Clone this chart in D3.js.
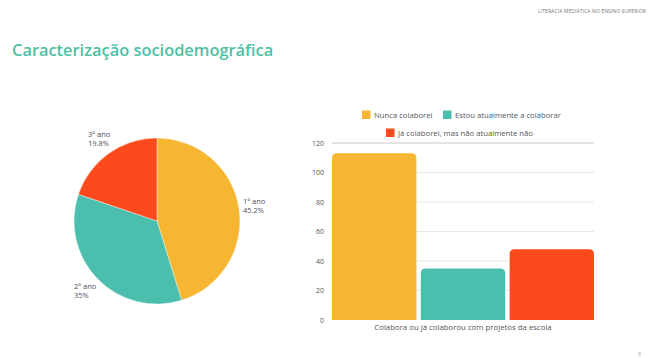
<!DOCTYPE html>
<html>
<head>
<meta charset="utf-8">
<script src="https://cdn.jsdelivr.net/npm/d3@7"></script>
<style>
  html, body { margin: 0; padding: 0; background: #fff; }
  svg { display: block; }
  text { font-family: "Open Sans", "Noto Sans", sans-serif; }
</style>
</head>
<body>
<svg id="chart" width="649" height="358"></svg>
<script>
// Year distribution (pie)
const years = ["1º ano", "2º ano", "3º ano"];
const yearShares = [45.2, 35, 19.8];
const yearLabels = ["45.2%", "35%", "19.8%"];

// Collaboration with school projects (bars)
const groups = ["Nunca colaborei", "Estou atualmente a colaborar", "Já colaborei, mas não atualmente não"];
const groupValues = [113, 35, 48];
const category = "Colabora ou já colaborou com projetos da escola";
const yTicks = [0, 20, 40, 60, 80, 100, 120];

const colors = ["#f7b632", "#4bbead", "#fc4a1c"];

const svg = d3.select("#chart");

// Header and title
svg.append("text").attr("x", 538).attr("y", 13)
  .attr("font-size", 5).attr("fill", "#777").attr("letter-spacing", 0.1)
  .text("LITERACIA MEDIÁTICA NO ENSINO SUPERIOR");

svg.append("text").attr("x", 12).attr("y", 56)
  .attr("font-size", 16.4).attr("font-weight", 600).attr("fill", "#4dbfa5")
  .text("Caracterização sociodemográfica");

svg.append("text").attr("x", 638).attr("y", 356)
  .attr("font-size", 5).attr("fill", "#999").text("9");

// ---- Pie ----
const cx = 157, cy = 221, r = 83;
const pie = d3.pie().sort(null).value(d => d)(yearShares);
const arc = d3.arc().innerRadius(0).outerRadius(r);
const pg = svg.append("g").attr("transform", `translate(${cx},${cy})`);
pg.selectAll("path").data(pie).join("path")
  .attr("d", arc).attr("fill", (d, i) => colors[i])
  .attr("stroke", "#fff").attr("stroke-width", 0.4);

const pieLabelPos = [[243, 204], [74, 289], [88, 137]];
pie.forEach((d, i) => {
  const [lx, ly] = pieLabelPos[i];
  const t = svg.append("text").attr("x", lx).attr("y", ly)
    .attr("font-size", 7.5).attr("fill", "#4a5160");
  t.append("tspan").attr("x", lx).text(years[i]);
  t.append("tspan").attr("x", lx).attr("dy", 9).text(yearLabels[i]);
});

// ---- Bars ----
const plotLeft = 332, plotRight = 594, plotTop = 143, plotBottom = 320;
const y = d3.scaleLinear().domain([0, 120]).range([plotBottom, plotTop]);
const x = d3.scaleBand().domain(groups).range([plotLeft, plotRight]).paddingInner(0.05).paddingOuter(0);

const grid = svg.append("g");
grid.selectAll("line").data(yTicks.filter(t => t > 0)).join("line")
  .attr("x1", plotLeft).attr("x2", plotRight)
  .attr("y1", d => y(d)).attr("y2", d => y(d))
  .attr("stroke", d => d === 120 ? "#c8c8c8" : "#e6e6e6").attr("stroke-width", 1);

const yAxis = d3.axisLeft(y).tickValues(yTicks).tickSize(0).tickPadding(8);
const ya = svg.append("g").attr("transform", `translate(${plotLeft},0)`).call(yAxis);
ya.select(".domain").remove();
ya.selectAll("text").attr("font-size", 7).attr("fill", "#555")
  .attr("font-family", "'Open Sans', sans-serif");

const rad = 5;
svg.append("g").selectAll("path").data(groupValues).join("path")
  .attr("fill", (d, i) => colors[i])
  .attr("d", (d, i) => {
    const x0 = x(groups[i]), x1 = x0 + x.bandwidth();
    const y0 = y(d), y1 = y(0);
    return `M${x0},${y1} L${x0},${y0 + rad} Q${x0},${y0} ${x0 + rad},${y0} ` +
           `L${x1 - rad},${y0} Q${x1},${y0} ${x1},${y0 + rad} L${x1},${y1} Z`;
  });

svg.append("text").attr("x", (plotLeft + plotRight) / 2).attr("y", 330)
  .attr("text-anchor", "middle").attr("font-size", 7.8).attr("fill", "#555")
  .text(category);

// Legend
const legendItems = [
  { i: 0, x: 362, y: 115 },
  { i: 1, x: 443, y: 115 },
  { i: 2, x: 386, y: 133 }
];
const lg = svg.append("g");
legendItems.forEach(it => {
  lg.append("rect").attr("x", it.x).attr("y", it.y - 4.5)
    .attr("width", 8.5).attr("height", 8.5).attr("fill", colors[it.i]);
  lg.append("text").attr("x", it.x + 12).attr("y", it.y + 3)
    .attr("font-size", 7.7).attr("fill", "#555").text(groups[it.i]);
});
</script>
</body>
</html>
